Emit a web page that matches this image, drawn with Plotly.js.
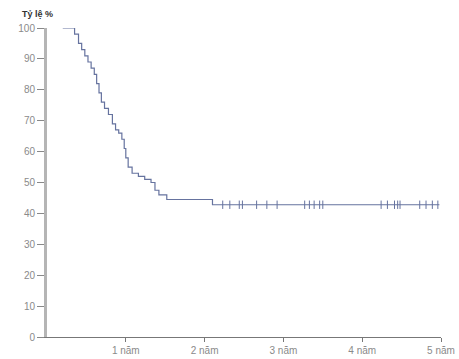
<!DOCTYPE html>
<html>
<head>
<meta charset="utf-8">
<script src="https://cdn.plot.ly/plotly-3.0.1.min.js"></script>
<style>html,body{margin:0;padding:0;background:#fff;}#chart{width:459px;height:359px;}</style>
</head>
<body>
<div id="chart"></div>
<script>
// Survival step curve (time in years, survival %)
const stepTimes = [0.20, 0.35, 0.40, 0.44, 0.48, 0.52, 0.56, 0.60, 0.63, 0.66, 0.69, 0.73, 0.78, 0.83, 0.87, 0.91, 0.95, 0.98, 1.00, 1.03, 1.08, 1.16, 1.24, 1.32, 1.37, 1.42, 1.52, 2.10, 4.98];
const stepSurvival = [100, 98, 95, 93, 91, 89, 87, 85, 82, 79, 76, 74, 72, 69, 67, 66, 64, 61, 58, 55, 53, 52, 51, 50, 47.5, 46, 44.5, 42.8, 42.8];
// Censored observations
const censorTimes = [2.23, 2.32, 2.44, 2.48, 2.66, 2.79, 2.92, 3.27, 3.33, 3.39, 3.46, 3.50, 4.24, 4.32, 4.41, 4.45, 4.48, 4.73, 4.81, 4.89, 4.96];
const censorSurvival = [42.8, 42.8, 42.8, 42.8, 42.8, 42.8, 42.8, 42.8, 42.8, 42.8, 42.8, 42.8, 42.8, 42.8, 42.8, 42.8, 42.8, 42.8, 42.8, 42.8, 42.8];
// Axis ticks
const yTicks = [0, 10, 20, 30, 40, 50, 60, 70, 80, 90, 100];
const xTicks = [1, 2, 3, 4, 5];
const xTickLabels = ["1 năm", "2 năm", "3 năm", "4 năm", "5 năm"];

const curveColor = "#66739f";
const traces = [
  {x: stepTimes, y: stepSurvival, type: "scatter", mode: "lines",
   line: {shape: "hv", color: curveColor, width: 1.2}, hoverinfo: "skip"},
  {x: censorTimes, y: censorSurvival, type: "scatter", mode: "markers",
   marker: {symbol: "line-ns-open", size: 6, color: curveColor, line: {color: curveColor, width: 1}}, hoverinfo: "skip"}
];
const layout = {
  width: 459, height: 359,
  margin: {l: 47, r: 18, t: 28, b: 22},
  paper_bgcolor: "#fff", plot_bgcolor: "#fff",
  showlegend: false,
  font: {family: "Liberation Sans, Arial, sans-serif", color: "#8a8a8a", size: 10},
  xaxis: {range: [0, 5], tickvals: xTicks, ticktext: xTickLabels, showgrid: false, zeroline: false,
          showline: true, linecolor: "#777", linewidth: 1, ticks: "outside", ticklen: 4, tickcolor: "#777",
          tickfont: {size: 10, color: "#8a8a8a"}, fixedrange: true},
  yaxis: {range: [0, 100], tickvals: yTicks, showgrid: false, zeroline: false,
          showline: true, linecolor: "#b5b5b5", linewidth: 3, ticks: "outside", ticklen: 7, tickcolor: "#888",
          tickfont: {size: 10, color: "#8a8a8a"}, fixedrange: true},
  annotations: [{text: "<b>Tỷ lệ %</b>", xref: "paper", yref: "paper", x: -0.025, y: 1.0, yshift: 14,
                 xanchor: "center", yanchor: "middle", showarrow: false, font: {size: 9, color: "#333"}}]
};
Plotly.newPlot("chart", traces, layout, {staticPlot: true, displayModeBar: false});
</script>
</body>
</html>
